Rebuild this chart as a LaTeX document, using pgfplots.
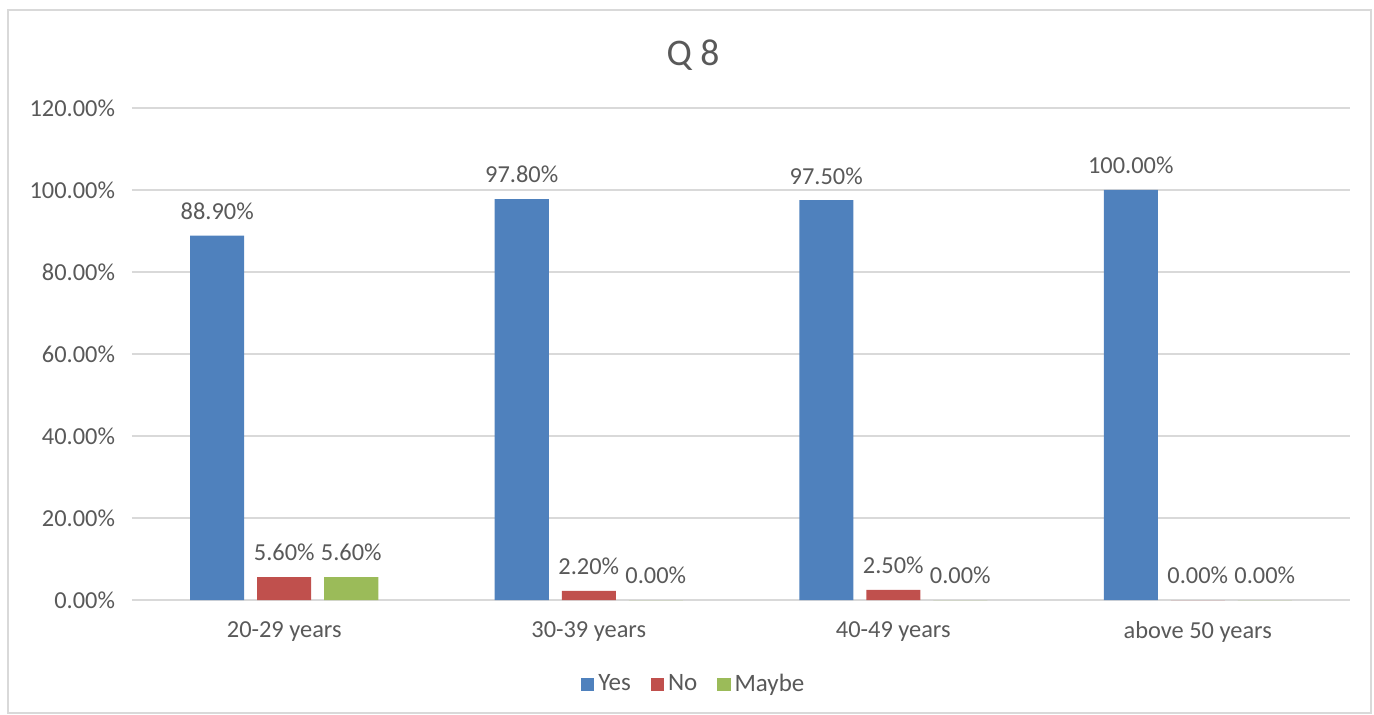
\documentclass[border=0pt]{standalone}
\usepackage{pgfplots}
\pgfplotsset{compat=1.18}
\usepackage{fontspec}
\setmainfont{Carlito}
\definecolor{cYes}{HTML}{4F81BD}
\definecolor{cNo}{HTML}{C0504D}
\definecolor{cMaybe}{HTML}{9BBB59}
\definecolor{txt}{HTML}{595959}
\definecolor{gridc}{HTML}{D9D9D9}
\begin{document}
\begin{tikzpicture}
\useasboundingbox (-66bp,-57.5bp) rectangle (621bp,300bp);
\draw[gridc, line width=0.6bp] (-62bp,-56.5bp) rectangle (619.5bp,295bp);
\begin{axis}[
  at={(0,0)}, anchor=south west,
  scale only axis,
  width=609bp, height=246bp,
  ybar=6.5bp, bar width=27bp,
  xmin=-0.5, xmax=3.5,
  ymin=0, ymax=120,
  xtick=data,
  xticklabels={20-29 years,30-39 years,40-49 years,above 50 years},
  ytick={0,20,40,60,80,100,120},
  yticklabel={\pgfmathprintnumber[fixed,fixed zerofill,precision=2]{\tick}\%},
  /pgf/number format/assume math mode=true,
  tick style={draw=none},
  axis line style={draw=none},
  ymajorgrids, grid style={gridc, line width=0.8bp},
  extra y ticks={0}, extra y tick labels={},
  extra y tick style={grid style={gridc, line width=1bp}},
  ticklabel style={font=\fontsize{12.2bp}{15bp}\selectfont, text=txt},
  yticklabel style={xshift=-5bp},
  xticklabel style={yshift=-3bp},
  nodes near coords={\pgfmathprintnumber[fixed,fixed zerofill,precision=2,assume math mode=true]{\pgfplotspointmeta}\%},
  every node near coord/.append style={font=\fontsize{12.2bp}{15bp}\selectfont, text=txt, yshift=4.5bp},
  legend style={at={(0.462,-0.171)}, anchor=center, draw=none, legend columns=-1,
    font=\fontsize{12.5bp}{15bp}\selectfont, text=txt,
    /tikz/every even column/.append style={column sep=8bp}},
  legend image code/.code={\fill[#1] (0bp,-3.3bp) rectangle (6.6bp,3.3bp);},
  clip=false,
]
\addplot[fill=cYes, draw=none] coordinates {(0,88.9) (1,97.8) (2,97.5) (3,100)};
\addplot[fill=cNo, draw=none] coordinates {(0,5.6) (1,2.2) (2,2.5) (3,0)};
\addplot[fill=cMaybe, draw=none] coordinates {(0,5.6) (1,0) (2,0) (3,0)};
\legend{Yes,No,Maybe}
\node[font=\fontsize{18.8bp}{22bp}\selectfont, text=txt] at (rel axis cs:0.4606,1.108) {Q 8};
\end{axis}
\end{tikzpicture}
\end{document}
